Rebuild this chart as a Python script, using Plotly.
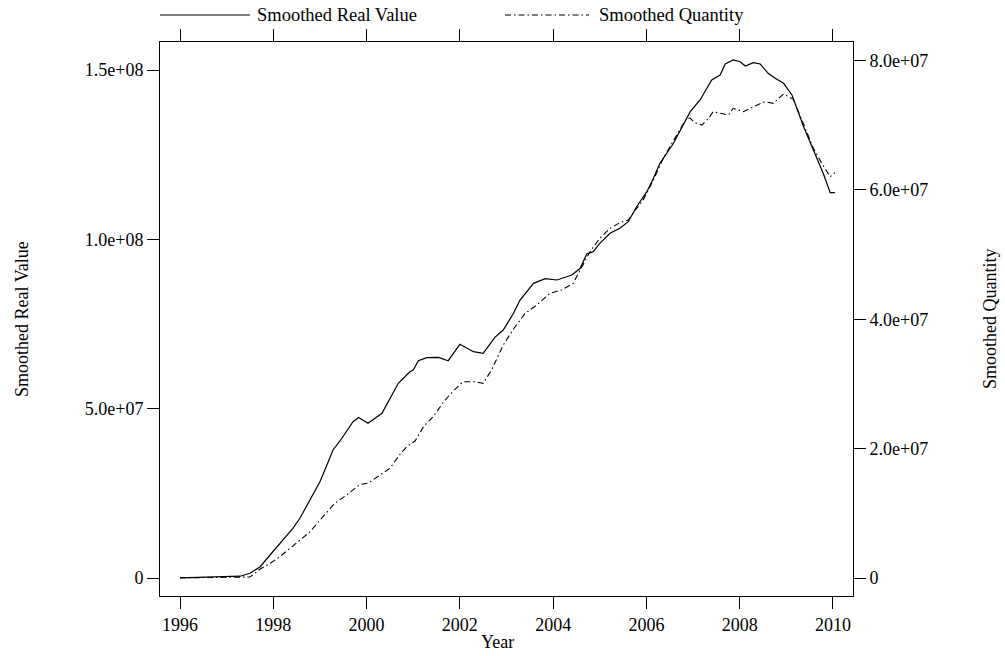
import plotly.graph_objects as go

# Smoothed real value (left axis)
value_years = [1996.00, 1996.86, 1997.29, 1997.50, 1997.72, 1997.93, 1998.14, 1998.42, 1998.57,
               1998.72, 1998.85, 1999.00, 1999.15, 1999.28, 1999.43, 1999.57, 1999.71, 1999.83,
               2000.03, 2000.33, 2000.50, 2000.68, 2000.93, 2001.00, 2001.11, 2001.29, 2001.54,
               2001.75, 2002.00, 2002.29, 2002.50, 2002.75, 2002.93, 2003.15, 2003.29, 2003.58,
               2003.83, 2004.08, 2004.40, 2004.58, 2004.72, 2004.86, 2005.00, 2005.22, 2005.43,
               2005.61, 2005.79, 2006.01, 2006.15, 2006.29, 2006.58, 2006.94, 2007.15, 2007.40,
               2007.58, 2007.69, 2007.86, 2008.01, 2008.12, 2008.29, 2008.44, 2008.61, 2008.76,
               2008.94, 2009.12, 2009.37, 2009.58, 2009.79, 2009.94, 2010.04]
real_value = [0.06, 0.35, 0.53, 1.39, 3.34, 6.79, 10.25, 14.68, 17.63,
              21.56, 24.51, 28.44, 33.37, 37.80, 40.46, 43.20, 46.16, 47.40,
              45.68, 48.64, 52.86, 57.50, 60.92, 61.42, 64.17, 65.06, 65.17,
              64.17, 69.01, 66.83, 66.35, 71.08, 73.23, 78.17, 82.09, 87.02,
              88.38, 88.00, 89.48, 91.45, 95.68, 96.36, 98.84, 101.79, 103.27,
              105.21, 109.64, 114.07, 118.03, 122.46, 128.37, 137.70, 141.15, 147.06,
              148.54, 151.78, 152.97, 152.46, 151.19, 152.17, 151.78, 149.03, 147.56,
              146.08, 142.63, 133.27, 126.39, 119.51, 113.78, 113.78]
real_value = [v * 1e6 for v in real_value]

# Smoothed quantity (right axis)
qty_years = [1996.00, 1997.50, 1997.72, 1997.93, 1998.14, 1998.36, 1998.57, 1998.79, 1999.00,
             1999.15, 1999.32, 1999.57, 1999.86, 2000.04, 2000.33, 2000.50, 2000.72, 2000.86,
             2001.04, 2001.22, 2001.43, 2001.65, 2001.86, 2002.07, 2002.33, 2002.50, 2002.68,
             2002.93, 2003.15, 2003.40, 2003.65, 2003.93, 2004.18, 2004.43, 2004.58, 2004.79,
             2005.00, 2005.22, 2005.43, 2005.61, 2005.76, 2005.93, 2006.15, 2006.36, 2006.58,
             2006.86, 2006.94, 2007.04, 2007.19, 2007.33, 2007.43, 2007.76, 2007.86, 2008.08,
             2008.29, 2008.54, 2008.72, 2008.94, 2009.15, 2009.37, 2009.58, 2009.76, 2009.94,
             2010.04]
quantity = [0.03, 0.15, 1.39, 2.27, 3.29, 4.59, 5.87, 7.16, 8.97,
            10.25, 11.55, 12.83, 14.46, 14.69, 16.08, 16.96, 19.17, 20.30,
            21.18, 23.39, 24.94, 27.21, 28.91, 30.35, 30.35, 30.10, 32.16,
            36.02, 38.50, 40.92, 42.21, 44.02, 44.52, 45.56, 47.62, 50.45,
            52.52, 54.06, 54.93, 55.34, 56.89, 58.43, 61.53, 64.89, 67.61,
            71.07, 71.07, 70.39, 70.03, 71.07, 72.09, 71.57, 72.62, 72.09,
            72.86, 73.64, 73.39, 74.83, 74.01, 70.03, 66.43, 64.11, 62.04,
            62.66]
quantity = [v * 1e6 for v in quantity]

year_ticks = [1996, 1998, 2000, 2002, 2004, 2006, 2008, 2010]
left_ticks = [0, 5e7, 1e8, 1.5e8]
left_labels = ["0", "5.0e+07", "1.0e+08", "1.5e+08"]
right_ticks = [0, 2e7, 4e7, 6e7, 8e7]
right_labels = ["0", "2.0e+07", "4.0e+07", "6.0e+07", "8.0e+07"]

FONT = "Liberation Serif, Times New Roman, serif"
DOTDASH = "6px,3px,1.5px,3px"

W, H = 1005, 656
BOX_L, BOX_R, BOX_T, BOX_B = 160, 853, 42, 596   # plot box in page pixels
PW, PH = BOX_R - BOX_L, BOX_B - BOX_T


def px(x):
    return (x - BOX_L) / PW


def py(y):
    return (BOX_B - y) / PH


fig = go.Figure()
fig.add_trace(go.Scatter(x=value_years, y=real_value, mode="lines",
                         line=dict(color="black", width=1.2),
                         name="Smoothed Real Value", yaxis="y"))
fig.add_trace(go.Scatter(x=qty_years, y=quantity, mode="lines",
                         line=dict(color="black", width=1.1, dash=DOTDASH),
                         name="Smoothed Quantity", yaxis="y2"))

axis_common = dict(showgrid=False, zeroline=False, ticks="outside", ticklen=12,
                   tickcolor="black", tickwidth=1, linecolor="black", linewidth=1,
                   tickfont=dict(family=FONT, size=18, color="black"))

fig.update_layout(
    width=W, height=H,
    margin=dict(l=BOX_L, r=W - BOX_R, t=BOX_T, b=H - BOX_B, pad=0),
    plot_bgcolor="white", paper_bgcolor="white",
    showlegend=False,
    font=dict(family=FONT, size=18, color="black"),
    xaxis=dict(range=[1995.571, 2010.429], tickvals=year_ticks,
               ticktext=[str(y) for y in year_ticks],
               showline=True, mirror="ticks", **axis_common),
    yaxis=dict(range=[-5.315e6, 1.5828e8], tickvals=left_ticks, ticktext=left_labels,
               showline=True, mirror=True, **axis_common),
    yaxis2=dict(range=[-2.783e6, 8.287e7], tickvals=right_ticks, ticktext=right_labels,
                overlaying="y", side="right", showline=False, **axis_common),
)

# axis titles
fig.add_annotation(text="Year", xref="paper", yref="paper", x=px(497), y=py(642),
                   showarrow=False, xanchor="center", yanchor="middle", font=dict(size=18))
fig.add_annotation(text="Smoothed Real Value", xref="paper", yref="paper", x=px(22), y=0.5,
                   showarrow=False, textangle=-90, xanchor="center", yanchor="middle", font=dict(size=18))
fig.add_annotation(text="Smoothed Quantity", xref="paper", yref="paper", x=px(990), y=0.5,
                   showarrow=False, textangle=-90, xanchor="center", yanchor="middle", font=dict(size=18))

# legend drawn at top like lattice key
ly = py(15)
fig.add_shape(type="line", xref="paper", yref="paper", x0=px(160), x1=px(250), y0=ly, y1=ly,
              line=dict(color="black", width=1.2))
fig.add_annotation(text="Smoothed Real Value", xref="paper", yref="paper", x=px(255), y=ly,
                   showarrow=False, xanchor="left", yanchor="middle", font=dict(size=18.5))
fig.add_shape(type="line", xref="paper", yref="paper", x0=px(505), x1=px(589),
              y0=ly, y1=ly, line=dict(color="black", width=1.1, dash=DOTDASH))
fig.add_annotation(text="Smoothed Quantity", xref="paper", yref="paper", x=px(597), y=ly,
                   showarrow=False, xanchor="left", yanchor="middle", font=dict(size=18.5))

# drop the default page margin so the figure fills the window exactly
fig.write_html("out.html", config={"displayModeBar": False},
               post_script="document.body.style.margin='0';")
